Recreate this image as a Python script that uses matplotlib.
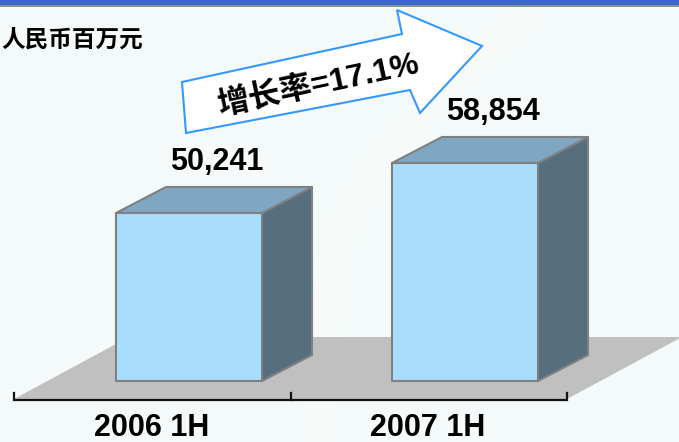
import matplotlib
matplotlib.use('Agg')
import matplotlib.pyplot as plt
from matplotlib.patches import Polygon, Rectangle

# data
categories = ['2006 1H', '2007 1H']
values = [50241, 58854]
value_labels = ['50,241', '58,854']
growth_label = '增长率=17.1%'
unit_label = '人民币百万元'

W, H = 679, 442
fig = plt.figure(figsize=(W / 100, H / 100), dpi=100)
bg = '#f3faf9'
fig.patch.set_facecolor(bg)

# axes covering whole figure, x = category index, y = value
ax = fig.add_axes([0, 0, 1, 1])
ax.set_facecolor(bg)
px_per_x = 276.0
px_per_v = 0.005805
x0_px = 189.0
base_v = 21300.0
base_px = 381.0
ax.set_xlim(-x0_px / px_per_x, (W - x0_px) / px_per_x)
ax.set_ylim(base_v - (H - base_px) / px_per_v, base_v + base_px / px_per_v)
ax.axis('off')

def dx(p):
    return p / px_per_x

def dy(p):
    return p / px_per_v

# faint background swoosh
sx = [dx(p - x0_px) for p in (318, 322, 340, 380, 440, 520)]
sy = [base_v - dy(p - base_px) for p in (442, 330, 230, 160, 90, 20)]
ax.plot(sx, sy, color='white', lw=22, alpha=0.3, zorder=0.5, solid_capstyle='round')

# floor
fl_l, fl_r = dx(14 - x0_px), dx(567 - x0_px)
fl_front = base_v - dy(18)
fl_back = base_v + dy(44)
fdx = dx(115)
ax.add_patch(Polygon([(fl_l, fl_front), (fl_r, fl_front), (fl_r + fdx, fl_back),
                      (fl_l + fdx, fl_back)], closed=True, fc='#c0c0c0', ec='none', zorder=1))

# axis line and ticks
ax_y = base_v - dy(19)
ax.plot([fl_l, fl_r], [ax_y, ax_y], color='#111111', lw=1.6, zorder=2, solid_capstyle='butt')
for t in [fl_l, (fl_l + fl_r) / 2, fl_r]:
    ax.plot([t, t], [ax_y, ax_y + dy(7)], color='#111111', lw=1.6, zorder=2)

# 3d bars
bw = dx(146)
ddx, ddy = dx(50), dy(26)
for i, v in enumerate(values):
    l, r = i - bw / 2, i + bw / 2
    top = v
    kw = dict(closed=True, ec='#808080', lw=1.5, zorder=3, joinstyle='round')
    ax.add_patch(Polygon([(r, base_v), (r + ddx, base_v + ddy), (r + ddx, top + ddy), (r, top)],
                         fc='#566e7e', **kw))
    ax.add_patch(Polygon([(l, top), (r, top), (r + ddx, top + ddy), (l + ddx, top + ddy)],
                         fc='#7fa7c2', **kw))
    ax.add_patch(Polygon([(l, base_v), (r, base_v), (r, top), (l, top)], fc='#a9ddfd', **kw))
    ax.text(i + dx(28), top + dy(43), value_labels[i], ha='center', va='baseline',
            fontsize=22, fontweight='bold', family=['Liberation Sans', 'DejaVu Sans'], zorder=5)
    ax.text(i - dx(37), ax_y - dy(36), categories[i], ha='center', va='baseline',
            fontsize=22, fontweight='bold', family=['Liberation Sans', 'DejaVu Sans'], zorder=5)

# top band
def fpt(x, y):
    return (x / W, 1 - y / H)

fig.patches.append(Rectangle(fpt(0, 5), 1, 5 / H, transform=fig.transFigure,
                             fc='#3a68c8', ec='none', zorder=10))
fig.patches.append(Rectangle(fpt(0, 7), 1, 2 / H, transform=fig.transFigure,
                             fc='#8a8f99', ec='none', zorder=10))

# growth arrow
arrow_px = [(186, 133), (182, 82), (402, 34), (397, 10), (482, 46), (420, 113), (410, 90)]
fig.patches.append(Polygon([fpt(x, y) for x, y in arrow_px], closed=True,
                           transform=fig.transFigure, fc='white', ec='#3399ff', lw=1.5, zorder=6))
fig.text(*fpt(318, 86), growth_label, rotation=12, rotation_mode='anchor',
         ha='center', va='center', fontsize=23, fontweight='heavy',
         family=['Liberation Sans', 'Noto Sans CJK SC'], zorder=7)

# unit label
fig.text(*fpt(143, 40), unit_label, ha='right', va='center', fontsize=17,
         fontweight='heavy', family=['Noto Sans CJK SC', 'DejaVu Sans'])

fig.savefig('out.png', dpi=100, facecolor=bg)
